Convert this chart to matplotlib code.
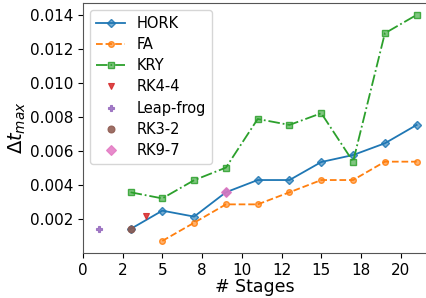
import matplotlib
matplotlib.use('Agg')
import matplotlib.pyplot as plt
from matplotlib.ticker import FormatStrFormatter, MultipleLocator
from matplotlib.colors import to_rgba

# stage counts and max time step per scheme
stages = [3, 5, 7, 9, 11, 13, 15, 17, 19, 21]
hork = [0.00141, 0.00249, 0.00214, 0.00357, 0.00429, 0.00429, 0.00535, 0.00576, 0.00645, 0.00753]
fa_stages = [5, 7, 9, 11, 13, 15, 17, 19, 21]
fa = [0.00071, 0.00178, 0.00286, 0.00286, 0.00357, 0.00429, 0.00429, 0.00537, 0.00537]
kry = [0.00357, 0.00321, 0.00428, 0.00502, 0.00788, 0.00753, 0.00822, 0.00537, 0.01292, 0.01400]

# single schemes: (name, stages, dt, marker, color)
singles = [
    ('RK4-4', 4, 0.00219, 'v', 'tab:red'),
    ('Leap-frog', 1, 0.00141, 'P', 'tab:purple'),
    ('RK3-2', 3, 0.00141, 'o', 'tab:brown'),
    ('RK9-7', 9, 0.00357, 'D', 'tab:pink'),
]


def mk(c, a=0.6):
    return dict(markerfacecolor=to_rgba(c, a), markeredgecolor=to_rgba(c, 0.85))


fig = plt.figure(figsize=(4.27, 2.98), dpi=100)
ax = fig.add_axes([0.194, 0.151, 0.806, 0.839])

ax.plot(stages, hork, '-', marker='D', color='tab:blue', markersize=4, lw=1.3,
        label='HORK', **mk('tab:blue'))
ax.plot(fa_stages, fa, '--', marker='o', color='tab:orange', markersize=4, lw=1.3,
        label='FA', **mk('tab:orange'))
ax.plot(stages, kry, '-.', marker='s', color='tab:green', markersize=4, lw=1.3,
        label='KRY', **mk('tab:green'))

for name, s, dt, m, c in singles:
    size = 5.5 if name == 'RK9-7' else 5
    ax.plot([s], [dt], linestyle='none', marker=m, color=c, markersize=size,
            label=name, markeredgewidth=0.8, **mk(c, 0.85))

ax.set_xlim(0, 21.65)
ax.set_ylim(0, 0.0147)
ax.xaxis.set_major_locator(MultipleLocator(2.5))
ax.xaxis.set_major_formatter(FormatStrFormatter('%.0f'))
ax.set_yticks([0.002, 0.004, 0.006, 0.008, 0.010, 0.012, 0.014])
ax.yaxis.set_major_formatter(FormatStrFormatter('%.3f'))
ax.tick_params(labelsize=11)

for sp in ax.spines.values():
    sp.set_color('#555555')

ax.set_xlabel('# Stages', fontsize=12.5, labelpad=0)
ax.set_ylabel(r'$\Delta t_{max}$', fontsize=14, labelpad=1)

ax.legend(loc='upper left', fontsize=10.5, handlelength=2.0, labelspacing=0.42)

fig.savefig('out.png', dpi=100)
